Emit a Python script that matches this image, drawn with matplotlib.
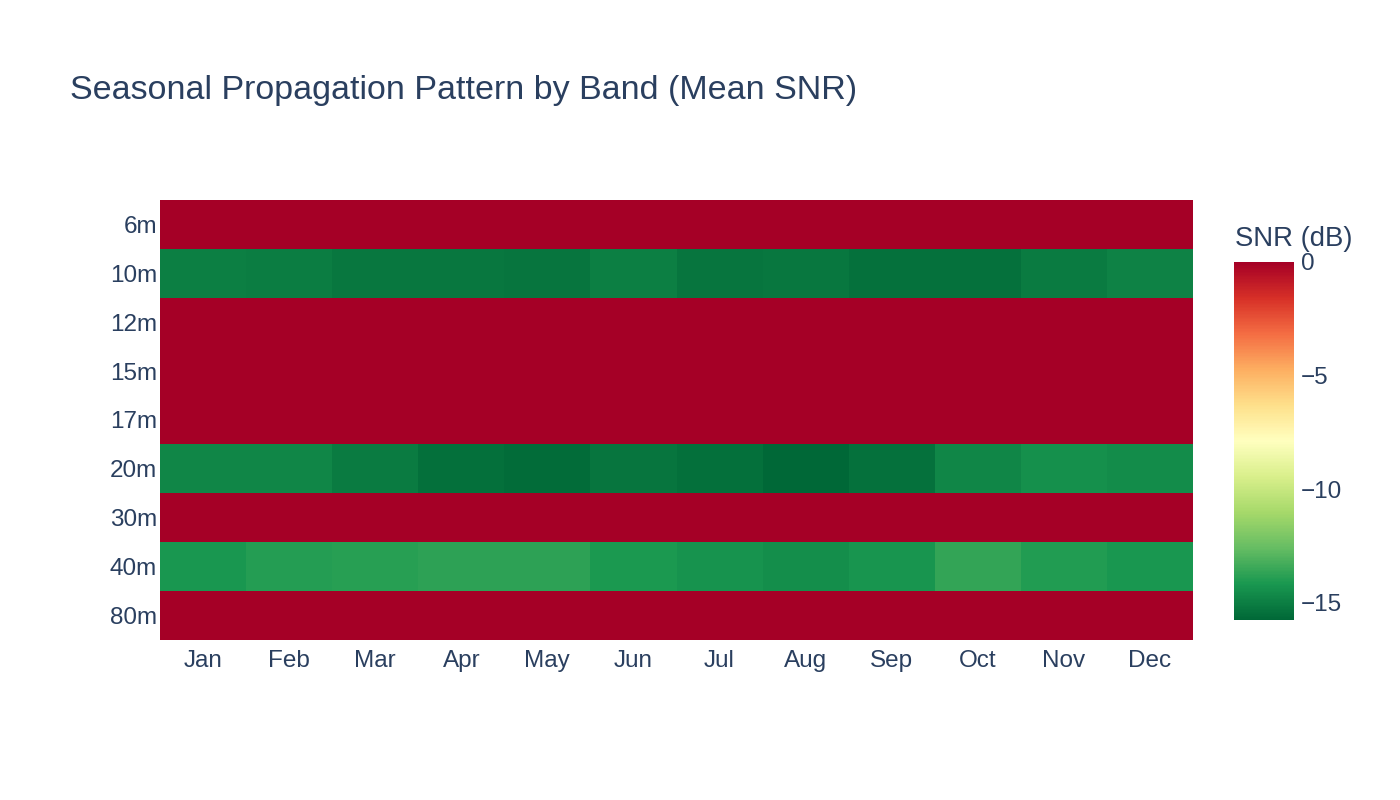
import numpy as np
import matplotlib.pyplot as plt
from matplotlib.ticker import FuncFormatter

plt.rcParams['font.family'] = ['Liberation Sans', 'DejaVu Sans']

# --- DATOS ---
months = ['Jan', 'Feb', 'Mar', 'Apr', 'May', 'Jun', 'Jul', 'Aug', 'Sep', 'Oct', 'Nov', 'Dec']
bands = ['6m', '10m', '12m', '15m', '17m', '20m', '30m', '40m', '80m']

snr_6m = [0.0] * 12
snr_10m = [-14.96, -15.04, -15.2, -15.2, -15.28, -14.96, -15.28, -15.2, -15.44, -15.44, -15.12, -14.88]
snr_12m = [0.0] * 12
snr_15m = [0.0] * 12
snr_17m = [0.0] * 12
snr_20m = [-14.73, -14.73, -15.12, -15.5, -15.6, -15.28, -15.5, -15.75, -15.44, -14.73, -14.4, -14.57]
snr_30m = [0.0] * 12
snr_40m = [-14.2, -13.94, -13.86, -13.78, -13.78, -14.1, -14.33, -14.5, -14.25, -13.6, -14.0, -14.2]
snr_80m = [0.0] * 12

Z = np.array([snr_6m, snr_10m, snr_12m, snr_15m, snr_17m,
              snr_20m, snr_30m, snr_40m, snr_80m])

txt = '#2a3f5f'

fig = plt.figure(figsize=(14, 8), dpi=100)
ax = fig.add_axes([160/1400, 1 - 640/800, (1193 - 160)/1400, 440/800])
cax = fig.add_axes([1234/1400, 1 - 620/800, 60/1400, 358/800])

mesh = ax.pcolormesh(np.arange(len(months) + 1) - 0.5, np.arange(len(bands) + 1) - 0.5, Z,
                     cmap='RdYlGn_r', vmin=Z.min(), vmax=Z.max(), shading='flat')
ax.set_xlim(-0.5, len(months) - 0.5)
ax.set_ylim(len(bands) - 0.5, -0.5)
ax.set_xticks(range(len(months)))
ax.set_xticklabels(months)
ax.set_yticks(range(len(bands)))
ax.set_yticklabels(bands)
ax.tick_params(length=0, labelsize=17.5, colors=txt, pad=7)
ax.tick_params(axis='y', pad=2)
for s in ax.spines.values():
    s.set_visible(False)

cb = fig.colorbar(mesh, cax=cax)
cb.outline.set_visible(False)
cb.set_ticks([0, -5, -10, -15])
cb.ax.yaxis.set_major_formatter(FuncFormatter(lambda v, p: f'{v:.0f}'.replace('-', '\u2212')))
cb.ax.tick_params(length=0, labelsize=17.5, colors=txt, pad=5)
fig.text(1235/1400, 1 - 239/800, 'SNR (dB)', fontsize=19.8, color=txt, ha='left', va='center')

fig.text(70/1400, 1 - 91/800, 'Seasonal Propagation Pattern by Band (Mean SNR)',
         fontsize=24.5, color=txt, ha='left', va='center')

fig.savefig('out.png', dpi=100, facecolor='white')
